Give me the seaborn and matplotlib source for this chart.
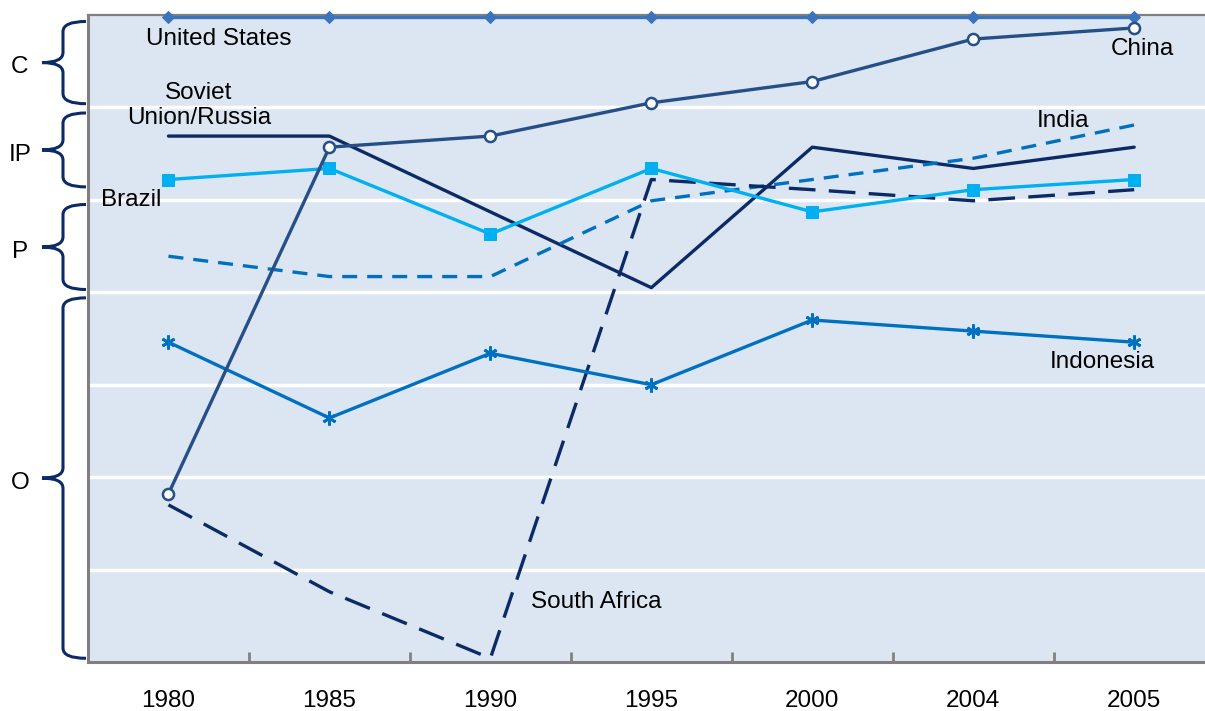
import numpy as np
import pandas as pd
import seaborn as sns
import matplotlib
matplotlib.use("Agg")
import matplotlib.pyplot as plt
from matplotlib.path import Path
from matplotlib.patches import PathPatch
from matplotlib.transforms import blended_transform_factory

sns.set_style("white")
plt.rcParams['font.family'] = ['Liberation Sans', 'DejaVu Sans']
plt.rcParams['text.color'] = 'black'
plt.rcParams['xtick.color'] = 'black'
plt.rcParams['xtick.labelcolor'] = 'black'

years = ["1980", "1985", "1990", "1995", "2000", "2004", "2005"]
united_states = [6.98, 6.98, 6.98, 6.98, 6.98, 6.98, 6.98]
china = [1.82, 5.57, 5.69, 6.05, 6.28, 6.74, 6.86]
soviet_russia = [5.69, 5.69, 4.87, 4.05, 5.57, 5.34, 5.57]
brazil = [5.22, 5.34, 4.63, 5.34, 4.87, 5.11, 5.22]
india = [4.39, 4.17, 4.17, 4.99, 5.22, 5.45, 5.81]
south_africa = [1.70, 0.76, 0.04, 5.22, 5.11, 4.99, 5.11]
indonesia = [3.46, 2.64, 3.34, 3.00, 3.70, 3.58, 3.46]

groups = ["C", "IP", "P", "O"]
group_top = [6.93, 5.94, 4.95, 3.94]
group_bottom = [6.04, 5.14, 4.03, 0.04]

idx = np.arange(len(years))

fig = plt.figure(figsize=(12.05, 7.11), dpi=100)
ax = fig.add_axes([88/1205, 49/711, 1 - 88/1205, (662-15)/711])
ax.set_facecolor("#DCE6F2")

navy = "#0B2A66"
lw = 2.4

sns.lineplot(x=idx, y=united_states, ax=ax, color="#3B74BC", lw=lw, marker="D",
             markersize=6, markeredgecolor="#3B74BC", clip_on=False, zorder=5)
sns.lineplot(x=idx, y=china, ax=ax, color="#254F86", lw=lw, marker="o", markersize=8,
             markerfacecolor="white", markeredgecolor="#254F86", markeredgewidth=1.8, zorder=6)
sns.lineplot(x=idx, y=soviet_russia, ax=ax, color=navy, lw=lw, zorder=4)
sns.lineplot(x=idx, y=brazil, ax=ax, color="#00B0F0", lw=lw, marker="s", markersize=8,
             markeredgecolor="#00B0F0", zorder=5)
sns.lineplot(x=idx, y=india, ax=ax, color="#0070C0", lw=lw, linestyle=(0, (4.5, 3)), zorder=4)
sns.lineplot(x=idx, y=south_africa, ax=ax, color=navy, lw=lw, linestyle=(0, (8, 4)), zorder=4)
sns.lineplot(x=idx, y=indonesia, ax=ax, color="#0070C0", lw=lw, marker=(6, 2, 0), markersize=10,
             markeredgecolor="#0070C0", markeredgewidth=2, zorder=5)

ax.set_xlim(-0.5, 6.44)
ax.set_ylim(0, 7)
ax.set_xticks(idx)
ax.set_xticklabels(years)
ax.set_xticks(np.arange(0.5, 6.5, 1.0), minor=True)
ax.tick_params(axis="x", which="major", bottom=True, length=0, pad=20, labelsize=17.5,
               labelcolor="black")
ax.tick_params(axis="x", which="minor", bottom=True, direction="in", length=7, width=2,
               color="#808080")
ax.set_yticks(np.arange(1, 7))
ax.set_yticklabels([])
ax.tick_params(axis="y", length=0)
ax.grid(axis="y", color="white", lw=2.5)
ax.grid(axis="x", visible=False)
ax.set_axisbelow(True)
ax.set_xlabel("")
ax.set_ylabel("")

for s in ["left", "bottom"]:
    ax.spines[s].set_color("#808080")
    ax.spines[s].set_linewidth(2.2)
ax.spines["top"].set_color("#808080")
ax.spines["top"].set_linewidth(1.6)
ax.spines["right"].set_visible(False)

fs = 17.5
ax.text(0.31, 6.74, "United States", ha="center", va="center", fontsize=fs)
ax.text(0.19, 6.02, "Soviet\nUnion/Russia", ha="center", va="center", fontsize=fs, linespacing=1.15)
ax.text(-0.23, 5.0, "Brazil", ha="center", va="center", fontsize=fs)
ax.text(6.05, 6.63, "China", ha="center", va="center", fontsize=fs)
ax.text(5.56, 5.85, "India", ha="center", va="center", fontsize=fs)
ax.text(2.66, 0.65, "South Africa", ha="center", va="center", fontsize=fs)
ax.text(5.80, 3.25, "Indonesia", ha="center", va="center", fontsize=fs)

# braces
tr = blended_transform_factory(fig.transFigure, ax.transData)
xt, xs, xm, xl = 86/1205, 63/1205, 42/1205, 20/1205
r = 0.11
for g, yt, yb in zip(groups, group_top, group_bottom):
    ym = (yt + yb) / 2
    verts = [(xt, yt), (xs, yt), (xs, yt - r), (xs, ym + r), (xs, ym), (xm, ym),
             (xs, ym), (xs, ym - r), (xs, yb + r), (xs, yb), (xt, yb)]
    codes = [Path.MOVETO, Path.CURVE3, Path.CURVE3, Path.LINETO, Path.CURVE3, Path.CURVE3,
             Path.CURVE3, Path.CURVE3, Path.LINETO, Path.CURVE3, Path.CURVE3]
    patch = PathPatch(Path(verts, codes), transform=tr, fill=False, edgecolor=navy, lw=2.2,
                      clip_on=False)
    fig.add_artist(patch)
    fig.text(xl, ym - 0.05, g, transform=tr, ha="center", va="center", fontsize=fs)

fig.savefig("out.png", dpi=100)
